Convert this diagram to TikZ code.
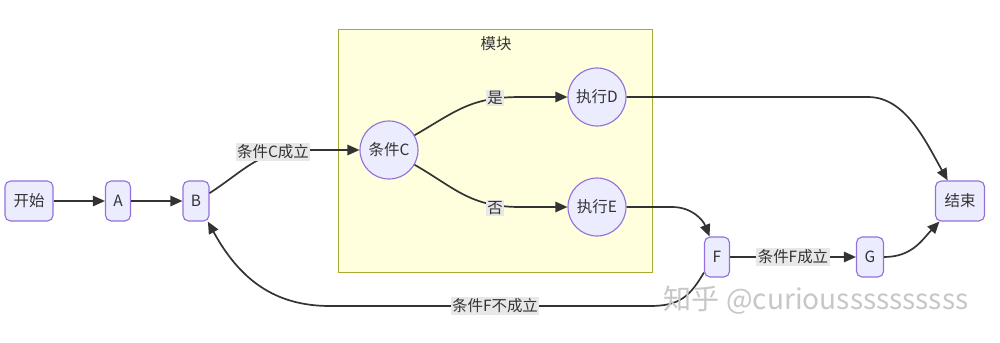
\documentclass[tikz,border=0pt]{standalone}
\usepackage{fontspec}
\setmainfont{Noto Sans CJK SC}
\usepackage{tikz}
\usepackage{xcolor}
\usetikzlibrary{arrows.meta,positioning}
\definecolor{mmfill}{HTML}{ECECFF}
\definecolor{mmline}{HTML}{9370DB}
\definecolor{mmclusterfill}{HTML}{FFFFDE}
\definecolor{mmclusterline}{HTML}{AAAA33}
\definecolor{mmedge}{HTML}{333333}
\definecolor{mmlabelbg}{HTML}{E8E8E8}
\definecolor{mmtext}{HTML}{333333}
\tikzset{
  flowBox/.style={draw=mmline, fill=mmfill, line width=0.8pt, rounded corners=4pt, minimum height=10mm, inner sep=2pt, text=mmtext, font=\fontsize{11}{13}\selectfont},
  flowCircle/.style={circle, draw=mmline, fill=mmfill, line width=0.8pt, minimum size=14.5mm, inner sep=0pt, text=mmtext, font=\fontsize{11}{13}\selectfont},
  moduleBox/.style={draw=mmclusterline, fill=mmclusterfill, line width=0.6pt, minimum width=78.5mm, minimum height=60.75mm},
  flowArrow/.style={-{Triangle[length=3mm, width=2.6mm]}, line width=1.2pt, draw=mmedge},
  flowLabel/.style={fill=mmlabelbg, inner sep=1pt, text=mmtext, font=\fontsize{11}{13}\selectfont},
  watermark/.style={text=black!22, font=\fontsize{20}{24}\selectfont}
}

\begin{document}
\begin{tikzpicture}[x=0.25mm,y=-0.25mm]
  \useasboundingbox (0,0) rectangle (1000,342);
  % module cluster
  \node[moduleBox] (module) at (495,150.5) {};
  \node[text=mmtext, font=\fontsize{11}{13}\selectfont] (moduleTitle) at (496,44) {模块};
  % nodes
  \node[flowBox, minimum width=12mm] (start) at (29,201) {开始};
  \node[flowBox, minimum width=6.25mm] (A) at (118,201) {A};
  \node[flowBox, minimum width=6.5mm] (B) at (196,201) {B};
  \node[flowCircle] (C) at (389,150) {条件C};
  \node[flowCircle] (D) at (597,97) {执行D};
  \node[flowCircle] (E) at (597,207) {执行E};
  \node[flowBox, minimum width=6.25mm] (F) at (717,257) {F};
  \node[flowBox, minimum width=6.75mm] (G) at (870,257) {G};
  \node[flowBox, minimum width=12.25mm] (end) at (960,201) {结束};
  % connectors
  \draw[flowArrow] (start) -- (A);
  \draw[flowArrow] (A) -- (B);
  \draw[flowArrow] (B.30) .. controls (245,170) and (260,150) .. (300,150) -- (C);
  \draw[flowArrow] (C.30) .. controls (455,112) and (470,97) .. (520,97) -- (D);
  \draw[flowArrow] (C.-30) .. controls (455,188) and (470,207) .. (520,207) -- (E);
  \draw[flowArrow] (D) -- (868,97) .. controls (905,97) and (925,140) .. (end.121);
  \draw[flowArrow] (E) -- (672,207) .. controls (692,207) and (703,220) .. (F.110);
  \draw[flowArrow] (F) -- (G);
  \draw[flowArrow] (G) .. controls (912,257) and (922,240) .. (end.-135);
  \draw[flowArrow] (F.-130) .. controls (690,296) and (680,306) .. (650,306) -- (330,306) .. controls (275,306) and (240,280) .. (B.-60);
  % edge labels
  \node[flowLabel] (lblBC) at (273,152) {条件C成立};
  \node[flowLabel] (lblYes) at (495,98) {是};
  \node[flowLabel] (lblNo) at (495,208) {否};
  \node[flowLabel] (lblFG) at (793,257) {条件F成立};
  \node[flowLabel] (lblFB) at (495,306) {条件F不成立};
  % watermark
  \node[watermark] (mark) at (816,300) {知乎 @curiou{}ssssssssss};
\end{tikzpicture}
\end{document}
